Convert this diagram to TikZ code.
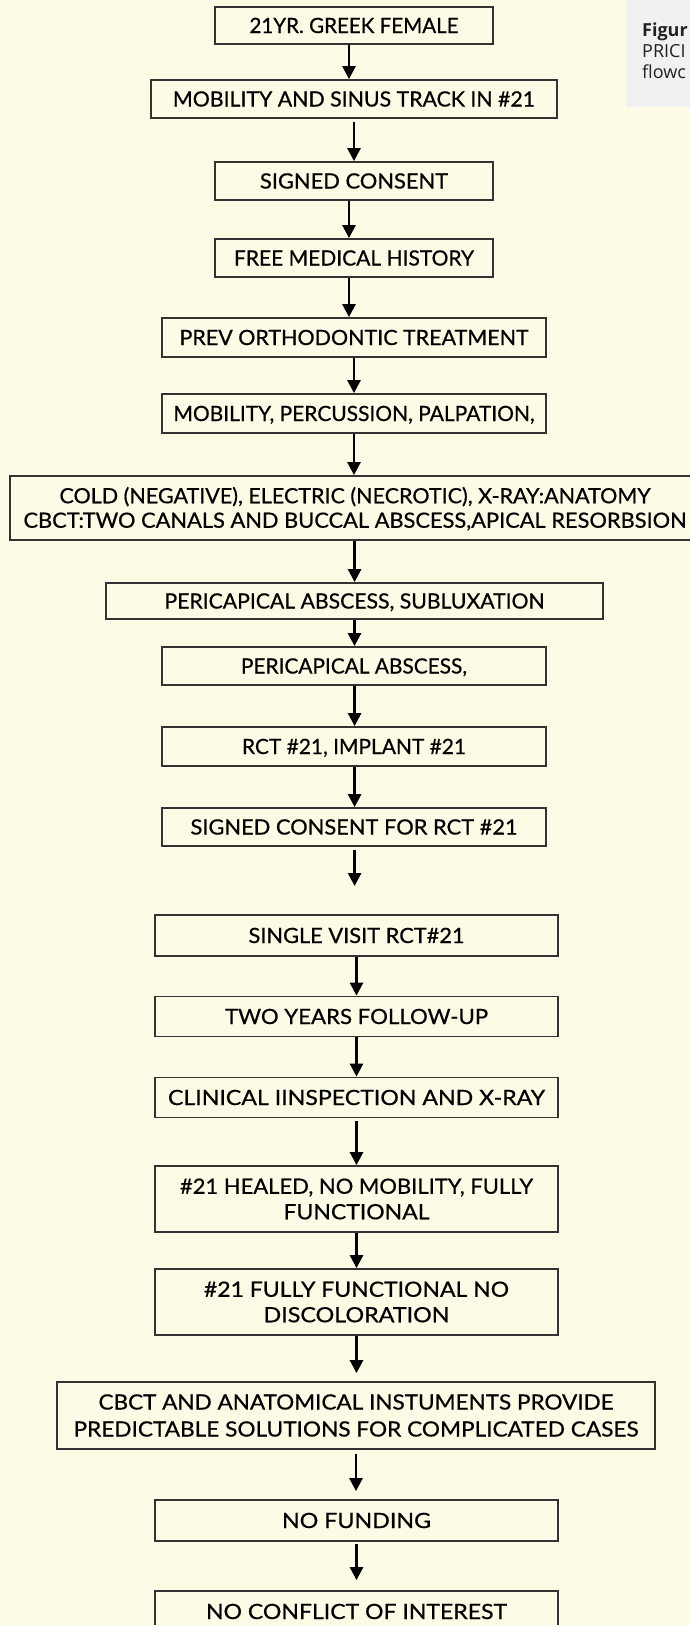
\documentclass[tikz,border=0pt]{standalone}
\usepackage{fontspec}
\usepackage{graphicx}
\setmainfont{Lato}[FakeBold=0.6]
\newfontfamily\capfont{Open Sans}
\usetikzlibrary{arrows.meta}
\definecolor{bgc}{HTML}{FDFAE6}
\definecolor{capbg}{HTML}{F1F1F1}
\definecolor{boxline}{HTML}{333333}
\definecolor{captxt}{HTML}{222222}
\newcommand{\fw}[2]{\resizebox{#1pt}{\height}{#2}}
\begin{document}
\begin{tikzpicture}[x=1pt,y=-1pt,
  box/.style={draw=boxline, line width=1.8pt, inner sep=0pt, align=center,
    font=\fontsize{21}{25.5}\selectfont, text height=15pt, text depth=0pt},
  arr/.style={line width=2.6pt, -{Triangle[width=13pt,length=13pt]}},
  captext/.style={anchor=base west, inner sep=0pt, text=captxt, font=\capfont\fontsize{18}{21}\selectfont}]
\useasboundingbox (0,0) rectangle (690,1625);
\fill[bgc] (0,0) rectangle (690,1625);
\begin{scope}
\clip (0,0) rectangle (690,1625);
\fill[capbg] (626,0) rectangle (690,107);
\node[captext, font=\capfont\fontsize{18}{21}\selectfont\bfseries] (capA) at (642,36) {Figur};
\node[captext] (capB) at (642,57) {PRICI};
\node[captext] (capC) at (642,78) {flowc};

\node[box, minimum width=278pt, minimum height=37pt] (b1) at (354,25.5) {\fw{209}{21YR. GREEK FEMALE}};
\node[box, minimum width=406pt, minimum height=38pt] (b2) at (354,99) {\fw{362}{MOBILITY AND SINUS TRACK IN \#21}};
\node[box, minimum width=278pt, minimum height=38pt] (b3) at (354,181) {\fw{188}{SIGNED CONSENT}};
\node[box, minimum width=278pt, minimum height=38pt] (b4) at (354,258) {\fw{240}{FREE MEDICAL HISTORY}};
\node[box, minimum width=384pt, minimum height=39pt] (b5) at (354,337.5) {\fw{349}{PREV ORTHODONTIC TREATMENT}};
\node[box, minimum width=384pt, minimum height=39pt] (b6) at (354,413.5) {\fw{361}{MOBILITY, PERCUSSION, PALPATION,}};
\node[box, minimum width=690pt, minimum height=64pt, font=\fontsize{21}{24.5}\selectfont, text height=39.5pt] (b7) at (355,508)
  {\fw{591}{COLD (NEGATIVE), ELECTRIC (NECROTIC), X-RAY:ANATOMY}\\\fw{663}{CBCT:TWO CANALS AND BUCCAL ABSCESS,APICAL RESORBSION}};
\node[box, minimum width=497pt, minimum height=36pt] (b8) at (354.5,601) {\fw{380}{PERICAPICAL ABSCESS, SUBLUXATION}};
\node[box, minimum width=384pt, minimum height=38pt] (b9) at (354,666) {\fw{226}{PERICAPICAL ABSCESS,}};
\node[box, minimum width=384pt, minimum height=39pt] (b10) at (354,746.5) {\fw{224}{RCT \#21, IMPLANT \#21}};
\node[box, minimum width=384pt, minimum height=38pt] (b11) at (354,827) {\fw{327}{SIGNED CONSENT FOR RCT \#21}};
\coordinate (gap) at (354.6,886);
\node[box, minimum width=403pt, minimum height=41pt] (b12) at (356.5,935.5) {\fw{216}{SINGLE VISIT RCT\#21}};
\node[box, minimum width=403pt, minimum height=40pt] (b13) at (356.5,1016.5) {\fw{263}{TWO YEARS FOLLOW-UP}};
\node[box, minimum width=403pt, minimum height=40pt] (b14) at (356.5,1097.5) {\fw{377}{CLINICAL IINSPECTION AND X-RAY}};
\node[box, minimum width=403pt, minimum height=66pt, text height=40.5pt] (b15) at (356.5,1199) {\fw{353}{\#21 HEALED, NO MOBILITY, FULLY}\\\fw{146}{FUNCTIONAL}};
\node[box, minimum width=403pt, minimum height=66pt, text height=40.5pt] (b16) at (356.5,1302) {\fw{305}{\#21 FULLY FUNCTIONAL NO}\\\fw{186}{DISCOLORATION}};
\node[box, minimum width=598pt, minimum height=67pt, font=\fontsize{21}{27}\selectfont, text height=42pt] (b17) at (356,1415.5)
  {\fw{515}{CBCT AND ANATOMICAL INSTUMENTS PROVIDE}\\\fw{565}{PREDICTABLE SOLUTIONS FOR COMPLICATED CASES}};
\node[box, minimum width=403pt, minimum height=41pt] (b18) at (356.5,1520.5) {\fw{149}{NO FUNDING}};
\node[box, minimum width=403pt, minimum height=41pt] (b19) at (356.5,1611.5) {\fw{301}{NO CONFLICT OF INTEREST}};

\draw[arr] ([xshift=-5pt]b1.south) -- ([xshift=-5pt]b1.south |- b2.north);
\draw[arr] ([yshift=-3pt]b2.south) -- (b2.south |- b3.north);
\draw[arr] ([xshift=-5pt]b3.south) -- ([xshift=-5pt]b3.south |- b4.north);
\draw[arr] ([xshift=-5pt]b4.south) -- ([xshift=-5pt]b4.south |- b5.north);
\draw[arr] (b5.south) -- (b5.south |- b6.north);
\draw[arr] (b6.south) -- (b6.south |- b7.north);
\draw[arr] ([xshift=-0.4pt]b7.south) -- ([xshift=-0.4pt]b7.south |- b8.north);
\draw[arr] (b8.south) -- (b8.south |- b9.north);
\draw[arr] ([xshift=0.6pt]b9.south) -- ([xshift=0.6pt]b9.south |- b10.north);
\draw[arr] ([xshift=0.6pt]b10.south) -- ([xshift=0.6pt]b10.south |- b11.north);
\draw[arr] ([xshift=0.6pt,yshift=-3pt]b11.south) -- (gap);
\draw[arr] (b12.south) -- (b12.south |- b13.north);
\draw[arr] (b13.south) -- (b13.south |- b14.north);
\draw[arr] ([yshift=-3pt]b14.south) -- (b14.south |- b15.north);
\draw[arr] (b15.south) -- (b15.south |- b16.north);
\draw[arr, shorten >=8pt] (b16.south) -- (b16.south |- b17.north);
\draw[arr, shorten <=4pt, shorten >=8pt] (b17.south) -- (b17.south |- b18.north);
\draw[arr, shorten <=2pt, shorten >=10pt] (b18.south) -- (b18.south |- b19.north);
\end{scope}
\end{tikzpicture}
\end{document}
